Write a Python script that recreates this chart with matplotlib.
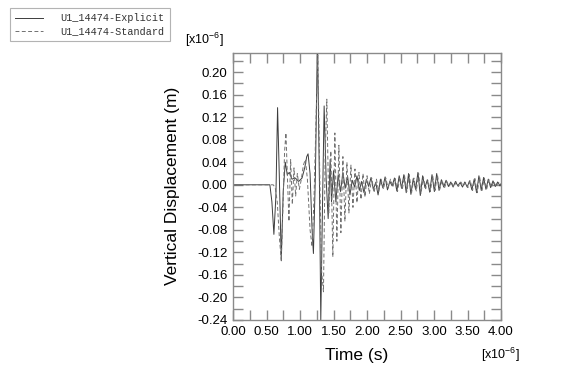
import matplotlib
matplotlib.use("Agg")
import matplotlib.pyplot as plt
from matplotlib.ticker import MultipleLocator, FixedLocator

plt.rcParams['font.family'] = ['Liberation Sans', 'DejaVu Sans']
plt.rcParams['mathtext.default'] = 'regular'

# time in units of 1e-6 s, displacement in units of 1e-6 m
t_explicit = [
    0.00, 0.50, 0.55, 0.58, 0.61, 0.64, 0.665, 0.69, 0.72, 0.75,
    0.78, 0.81, 0.84, 0.88, 0.93, 0.98, 1.03, 1.07, 1.10, 1.12,
    1.15, 1.18, 1.20, 1.23, 1.26, 1.29, 1.31, 1.335, 1.36, 1.39,
    1.42, 1.45, 1.47,
    1.50, 1.535, 1.57, 1.605, 1.64, 1.675, 1.71, 1.745, 1.78, 1.815,
    1.85, 1.885, 1.92, 1.955, 1.99, 2.025, 2.06, 2.095, 2.13, 2.165,
    2.20, 2.235, 2.27, 2.305, 2.34, 2.375, 2.41, 2.445, 2.48, 2.515,
    2.55, 2.585, 2.62, 2.655, 2.69, 2.725, 2.76, 2.795, 2.83, 2.865,
    2.90, 2.935, 2.97, 3.005, 3.04, 3.075, 3.11, 3.145, 3.18, 3.215,
    3.25, 3.285, 3.32, 3.355, 3.39, 3.425, 3.46, 3.495, 3.53, 3.565,
    3.60, 3.635, 3.67, 3.705, 3.74, 3.775, 3.81, 3.845, 3.88, 3.915,
    3.95, 3.985, 4.00,
]
u_explicit = [
    0.000, 0.000, 0.000, -0.030, -0.088, -0.020, 0.137, 0.020, -0.133, -0.010,
    0.040, 0.018, 0.022, 0.010, 0.012, 0.006, 0.012, 0.030, 0.050, 0.055,
    0.020, -0.080, -0.122, 0.020, 0.260, 0.000, -0.240, -0.040, 0.140, 0.010,
    -0.060, 0.045, -0.030,
    0.025, -0.030, 0.018, -0.012, 0.022, -0.006, 0.015, -0.018, 0.008, -0.004,
    0.016, -0.010, 0.006, -0.014, 0.010, -0.003, 0.013, -0.008, 0.004, -0.018,
    0.010, -0.005, 0.014, -0.009, 0.006, -0.002, 0.012, -0.011, 0.016, -0.006,
    0.018, -0.014, 0.020, -0.017, 0.011, -0.008, 0.022, -0.019, 0.016, -0.005,
    0.009, -0.013, 0.018, -0.012, 0.020, -0.010, 0.009, -0.004, 0.008, -0.003,
    0.005, -0.004, 0.006, -0.002, 0.004, -0.004, 0.005, -0.004, 0.007, -0.009,
    0.010, -0.014, 0.016, -0.010, 0.013, -0.008, 0.010, -0.005, 0.007, -0.003,
    0.005, -0.002, 0.002,
]

t_standard = [
    0.00, 0.60, 0.63, 0.66, 0.69, 0.72, 0.745, 0.77, 0.79, 0.81,
    0.835, 0.86, 0.885, 0.91, 0.935, 0.96, 0.99, 1.02, 1.05, 1.08,
    1.11, 1.15, 1.18, 1.21, 1.24, 1.265, 1.29, 1.32, 1.35, 1.375,
    1.40, 1.43, 1.46, 1.49, 1.52, 1.55, 1.58, 1.61, 1.64, 1.67,
    1.70, 1.73, 1.76, 1.79, 1.82, 1.85, 1.88, 1.91, 1.94, 1.97,
    2.00, 2.035, 2.07, 2.105, 2.14, 2.175, 2.21, 2.245, 2.28, 2.315,
    2.35, 2.385, 2.42, 2.455, 2.49, 2.525, 2.56, 2.595, 2.63, 2.665,
    2.70, 2.735, 2.77, 2.805, 2.84, 2.875, 2.91, 2.945, 2.98, 3.015,
    3.05, 3.085, 3.12, 3.155, 3.19, 3.225, 3.26, 3.295, 3.33, 3.365,
    3.40, 3.435, 3.47, 3.505, 3.54, 3.575, 3.61, 3.645, 3.68, 3.715,
    3.75, 3.785, 3.82, 3.855, 3.89, 3.925, 3.96, 4.00,
]
u_standard = [
    0.000, 0.000, -0.005, -0.030, -0.090, -0.135, -0.040, 0.060, 0.092, 0.020,
    -0.065, 0.045, -0.035, 0.030, -0.020, 0.020, -0.008, 0.010, 0.035, 0.045,
    0.010, -0.080, -0.110, -0.020, 0.120, 0.230, 0.050, -0.150, -0.190, 0.050,
    0.152, -0.050, 0.060, -0.128, 0.092, -0.100, 0.070, -0.085, 0.050, -0.065,
    0.040, -0.050, 0.035, -0.040, 0.028, -0.032, 0.022, -0.026, 0.020, -0.022,
    0.016, -0.016, 0.012, -0.014, 0.010, -0.012, 0.010, -0.008, 0.012, -0.006,
    0.010, -0.004, 0.011, -0.012, 0.014, -0.009, 0.016, -0.012, 0.018, -0.014,
    0.012, -0.011, 0.020, -0.016, 0.014, -0.007, 0.008, -0.012, 0.016, -0.010,
    0.018, -0.008, 0.008, -0.006, 0.006, -0.003, 0.005, -0.004, 0.005, -0.003,
    0.005, -0.002, 0.004, -0.005, 0.008, -0.010, 0.011, -0.014, 0.014, -0.010,
    0.012, -0.008, 0.009, -0.005, 0.006, -0.003, 0.004, 0.001,
]

y_ticks = [-0.24, -0.20, -0.16, -0.12, -0.08, -0.04, 0.00, 0.04, 0.08, 0.12, 0.16, 0.20]
x_ticks = [0.0, 0.5, 1.0, 1.5, 2.0, 2.5, 3.0, 3.5, 4.0]

AX_GRAY = '#8a8a8a'

fig = plt.figure(figsize=(5.7, 3.84), dpi=100)
ax = fig.add_axes([0.4088, 0.1667, 0.4702, 0.6953])

ax.plot(t_explicit, u_explicit, color='#3c3c3c', lw=0.7, label='U1_14474-Explicit')
ax.plot(t_standard, u_standard, color='#707070', lw=0.7, ls=(0, (4, 2.5)),
        label='U1_14474-Standard')

ax.set_xlim(0, 4.0)
ax.set_ylim(-0.24, 0.234)
ax.xaxis.set_major_locator(FixedLocator(x_ticks))
ax.xaxis.set_minor_locator(MultipleLocator(0.25))
ax.yaxis.set_major_locator(FixedLocator(y_ticks))
ax.yaxis.set_minor_locator(MultipleLocator(0.02))
ax.set_xticklabels([f"{v:.2f}" for v in x_ticks])
ax.set_yticklabels([f"{v:.2f}".replace("-0.00", "0.00") for v in y_ticks])

for s in ax.spines.values():
    s.set_color(AX_GRAY)
    s.set_linewidth(1.0)
ax.tick_params(which='both', direction='in', top=True, right=True,
               color=AX_GRAY, width=1.0, labelsize=9.5, labelcolor='black')
ax.tick_params(which='major', length=7, pad=4)
ax.tick_params(which='minor', length=7)

fig.text(0.302, 0.516, 'Vertical Displacement (m)', rotation=90,
         ha='center', va='center', fontsize=12.5)
fig.text(0.625, 0.075, 'Time (s)', ha='center', va='center', fontsize=12.5)
fig.text(0.358, 0.895, r'[x10$^{-6}$]', ha='center', va='center', fontsize=9)
fig.text(0.877, 0.075, r'[x10$^{-6}$]', ha='center', va='center', fontsize=9)

leg = fig.legend(loc='upper left', bbox_to_anchor=(0.0175, 0.979),
                 prop={'family': 'Liberation Mono', 'size': 7.3},
                 frameon=True, fancybox=False, edgecolor='#a0a0a0',
                 handlelength=2.8, handletextpad=1.7, borderpad=0.5,
                 labelspacing=0.3, borderaxespad=0)
leg.get_frame().set_linewidth(0.8)
for txt in leg.get_texts():
    txt.set_color('#333333')

fig.savefig('out.png', dpi=100)
